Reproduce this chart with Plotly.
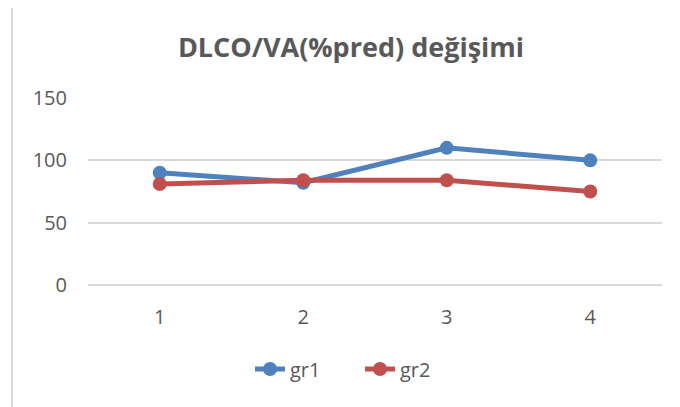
import plotly.graph_objects as go

# data
categories = [1, 2, 3, 4]
gr1 = [90, 82, 110, 100]
gr2 = [81, 84, 84, 75]
y_ticks = [0, 50, 100, 150]

W, H = 680, 407
OFF = 8  # page body margin shifts the figure by 8px
# plot area in page pixels
L, R, T, B = 88, 662, 98, 285

def px_x(x):
    return (x - L) / (R - L)

def px_y(y):
    return (B - y) / (B - T)

fig = go.Figure()
fig.add_trace(go.Scatter(
    x=categories, y=gr1, name="gr1", mode="lines+markers",
    line=dict(color="#4F81BD", width=5),
    marker=dict(color="#4F81BD", size=14)
))
fig.add_trace(go.Scatter(
    x=categories, y=gr2, name="gr2", mode="lines+markers",
    line=dict(color="#C0504D", width=5),
    marker=dict(color="#C0504D", size=14)
))

# light gray chart border (only top and left visible in the crop)
border = dict(color="#D9D9D9", width=2)
fig.add_shape(type="line", xref="paper", yref="paper",
              x0=px_x(12), x1=px_x(W + 5), y0=px_y(6), y1=px_y(6), line=border)
fig.add_shape(type="line", xref="paper", yref="paper",
              x0=px_x(12), x1=px_x(12), y0=px_y(6), y1=px_y(H + 5), line=border)

fig.update_layout(
    width=W - OFF, height=H - OFF,
    margin=dict(l=L - OFF, r=W - R, t=T - OFF, b=H - B),
    paper_bgcolor="white", plot_bgcolor="white",
    font=dict(family="Open Sans", color="#595959", size=20),
    title=dict(text="<b>DLCO/VA(%pred) değişimi</b>",
               x=(351 - OFF) / (W - OFF), xref="container", xanchor="center",
               y=1 - (48 - OFF) / (H - OFF), yref="container", yanchor="middle",
               font=dict(size=27, color="#595959")),
    showlegend=True,
    legend=dict(orientation="h", x=px_x(360), xanchor="center",
                y=px_y(369), yanchor="middle", entrywidth=65,
                font=dict(size=20, color="#595959")),
    xaxis=dict(range=[0.5, 4.5], tickvals=categories, showgrid=False,
               zeroline=False, showline=False, ticks="",
               ticklabelstandoff=18, tickfont=dict(size=20)),
    yaxis=dict(range=[0, 150], tickvals=y_ticks, showgrid=True,
               gridcolor="#D9D9D9", gridwidth=1.5, zeroline=True,
               zerolinecolor="#D9D9D9", zerolinewidth=1.5, showline=False,
               ticks="", ticklabelstandoff=20, tickfont=dict(size=20)),
)

fig.write_html("out.html")
